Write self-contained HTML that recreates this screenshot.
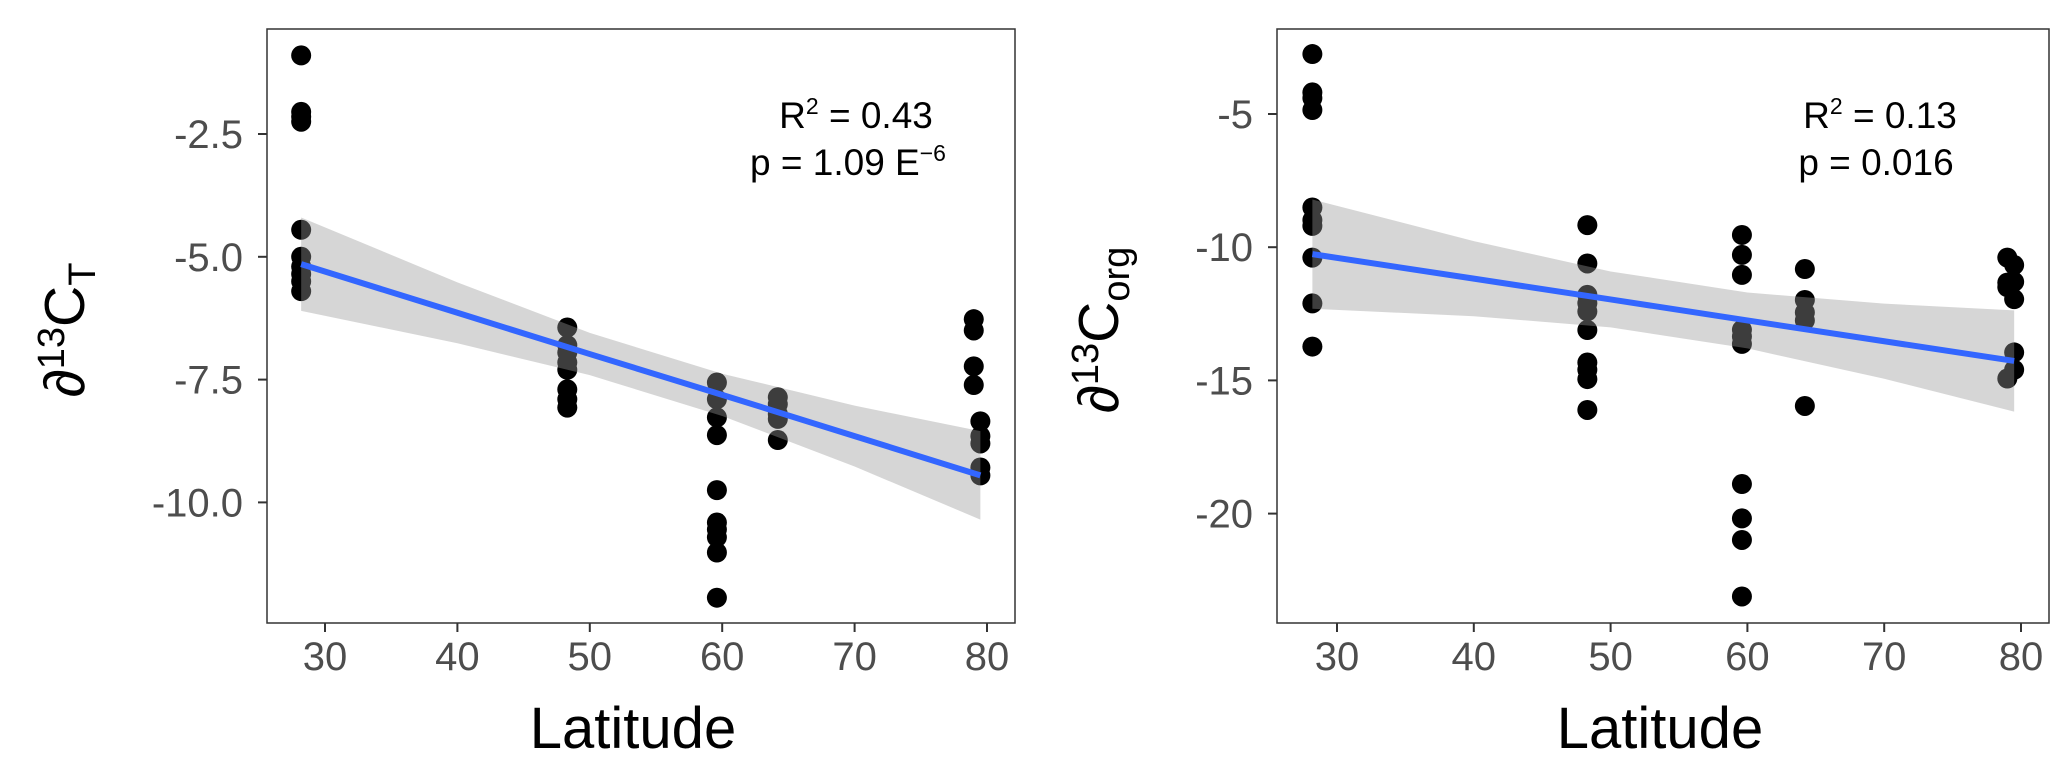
<!DOCTYPE html>
<html><head><meta charset="utf-8"><style>
html,body{margin:0;padding:0;background:#fff;}
svg{display:block;font-family:"Liberation Sans",sans-serif;}
</style></head><body>
<svg id="chart" width="2067" height="775" viewBox="0 0 2067 775" xmlns="http://www.w3.org/2000/svg"></svg>
<script>
const latT=[28.2,28.2,28.2,28.2,28.2,28.2,28.2,28.2,28.2,28.2,48.3,48.3,48.3,48.3,48.3,48.3,48.3,48.3,59.6,59.6,59.6,59.6,59.6,59.6,59.6,59.6,59.6,59.6,64.2,64.2,64.2,64.2,64.2,79,79,79,79,79.5,79.5,79.5,79.5,79.5];
const valT=[-0.9,-2.05,-2.15,-2.25,-4.45,-5.0,-5.2,-5.35,-5.5,-5.7,-6.44,-6.8,-6.95,-7.15,-7.3,-7.7,-7.9,-8.07,-7.56,-7.9,-8.27,-8.63,-9.75,-10.41,-10.55,-10.71,-11.02,-11.94,-7.86,-8.0,-8.2,-8.3,-8.73,-6.27,-6.5,-7.23,-7.61,-8.35,-8.65,-8.8,-9.29,-9.45];
const latO=[28.2,28.2,28.2,28.2,28.2,28.2,28.2,28.2,28.2,28.2,48.3,48.3,48.3,48.3,48.3,48.3,48.3,48.3,48.3,48.3,59.6,59.6,59.6,59.6,59.6,59.6,59.6,59.6,59.6,59.6,64.2,64.2,64.2,64.2,64.2,79,79,79,79,79.5,79.5,79.5,79.5,79.5];
const valO=[-2.75,-4.19,-4.4,-4.85,-8.51,-8.98,-9.2,-10.39,-12.11,-13.73,-9.17,-10.61,-11.79,-12.1,-12.41,-13.11,-14.33,-14.6,-14.95,-16.11,-9.54,-10.29,-11.04,-13.1,-13.35,-13.63,-18.89,-20.18,-20.99,-23.11,-10.82,-11.98,-12.45,-12.75,-15.96,-10.39,-11.33,-11.5,-14.93,-10.67,-11.3,-11.95,-13.95,-14.6];
const bandLat=[28.2,40,50,60,70,79.5];
const fitT=[-5.15,-6.14,-6.98,-7.81,-8.65,-9.45];
const upT=[-4.2,-5.52,-6.55,-7.38,-8.03,-8.55];
const loT=[-6.1,-6.76,-7.41,-8.24,-9.27,-10.35];
const fitO=[-10.26,-11.18,-11.96,-12.75,-13.53,-14.27];
const upO=[-8.21,-9.77,-10.91,-11.7,-12.12,-12.37];
const loO=[-12.31,-12.59,-13.01,-13.8,-14.94,-16.17];
const xTicks=[30,40,50,60,70,80];
const yTicksT=[-2.5,-5.0,-7.5,-10.0];
const yTicksO=[-5,-10,-15,-20];

const NS="http://www.w3.org/2000/svg";
const svg=document.getElementById('chart');
function mk(tag,attrs,parent){const e=document.createElementNS(NS,tag);for(const k in attrs)e.setAttribute(k,attrs[k]);(parent||svg).appendChild(e);return e;}

function panel(cfg){
  const g=mk('g',{});
  
  
  const xs=v=>cfg.x30+(v-30)*cfg.pxX;
  const ys=v=>cfg.y0+(v-cfg.v0)*cfg.pxY;
  for(let i=0;i<cfg.lat.length;i++){
    const c=mk('circle',{cx:xs(cfg.lat[i]),cy:ys(cfg.val[i]),r:10,fill:'#000'},g);
    
    
  }
  let d='';
  bandLat.forEach((l,i)=>{d+=(i?'L':'M')+xs(l)+','+ys(cfg.up[i]);});
  for(let i=bandLat.length-1;i>=0;i--)d+='L'+xs(bandLat[i])+','+ys(cfg.lo[i]);
  const band=mk('path',{d:d+'Z',fill:'rgba(153,153,153,0.4)'},g);
  
  
  let ld='';
  bandLat.forEach((l,i)=>{ld+=(i?'L':'M')+xs(l)+','+ys(cfg.fit[i]);});
  const line=mk('path',{d:ld,fill:'none',stroke:'#3366FF','stroke-width':6},g);
  
  
  const fr=mk('rect',{x:cfg.bx0,y:29,width:cfg.bx1-cfg.bx0,height:594,fill:'none',stroke:'#333','stroke-width':1.5},g);
  
  
  xTicks.forEach(t=>{
    mk('line',{x1:xs(t),x2:xs(t),y1:623,y2:632,stroke:'#333','stroke-width':2},g);
    const tx=mk('text',{x:xs(t),y:670,'text-anchor':'middle','font-size':40,fill:'#4d4d4d'},g);
    tx.textContent=t;
    
    
  });
  cfg.yt.forEach(t=>{
    mk('line',{x1:cfg.bx0-9,x2:cfg.bx0,y1:ys(t),y2:ys(t),stroke:'#333','stroke-width':2},g);
    const tx=mk('text',{x:cfg.bx0-24,y:ys(t)+14,'text-anchor':'end','font-size':40,fill:'#4d4d4d'},g);
    tx.textContent=cfg.fmt(t);
    
    
  });
  const xt=mk('text',{x:cfg.xtx,y:748,'text-anchor':'middle','font-size':58,fill:'#000'},g);
  xt.textContent='Latitude';
  
  
  const yt=mk('text',{x:0,y:0,'text-anchor':'middle','font-size':57,fill:'#000',transform:'translate('+cfg.ytx+',330) rotate(-90)'},g);
  yt.innerHTML=cfg.ytitle;
  
  
  const a1=mk('text',{x:cfg.ax,y:128,'text-anchor':'middle','font-size':37,fill:'#000'},g);
  a1.innerHTML=cfg.a1;
  
  
  const a2=mk('text',{x:cfg.ax2,y:175,'text-anchor':'middle','font-size':37,fill:'#000'},g);
  a2.innerHTML=cfg.a2;
  
  
}
panel({name:'panel-d13c-total',lat:latT,val:valT,up:upT,lo:loT,fit:fitT,yt:yTicksT,fmt:t=>t.toFixed(1),
  x30:325,pxX:13.24,y0:134,v0:-2.5,pxY:-49.12,bx0:267,bx1:1015,xtx:633,ytx:84,ax:856,ax2:848,
  ytitle:'∂<tspan dy="-20" font-size="38">13</tspan><tspan dy="20">C</tspan><tspan dy="11" font-size="38">T</tspan>',
  a1:'R<tspan dy="-14" font-size="23">2</tspan><tspan dy="14"> = 0.43</tspan>',
  a2:'p = 1.09 E<tspan dy="-14" font-size="23">−6</tspan>'});
panel({name:'panel-d13c-org',lat:latO,val:valO,up:upO,lo:loO,fit:fitO,yt:yTicksO,fmt:t=>String(t),
  x30:1337,pxX:13.68,y0:114,v0:-5,pxY:-26.64,bx0:1277,bx1:2049,xtx:1660,ytx:1118,ax:1880,ax2:1876,
  ytitle:'∂<tspan dy="-20" font-size="38">13</tspan><tspan dy="20">C</tspan><tspan dy="11" font-size="38">org</tspan>',
  a1:'R<tspan dy="-14" font-size="23">2</tspan><tspan dy="14"> = 0.13</tspan>',
  a2:'p = 0.016'});
</script>
</body></html>
